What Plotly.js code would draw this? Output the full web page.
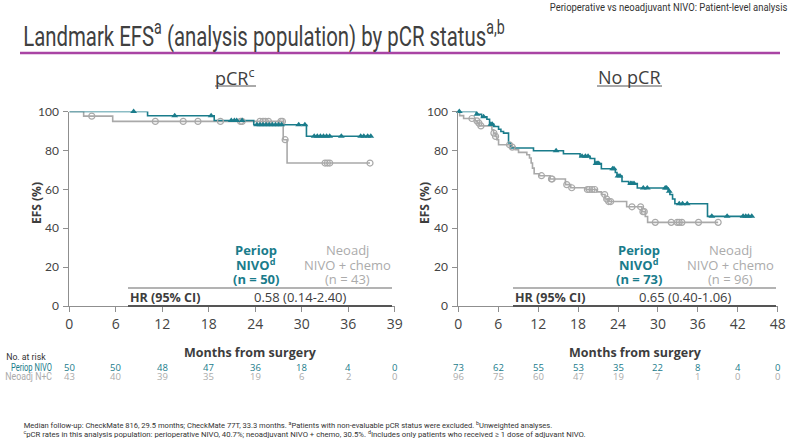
<!DOCTYPE html>
<html><head><meta charset="utf-8">
<script src="https://cdn.plot.ly/plotly-3.0.1.min.js"></script>
<style>html,body{margin:0;padding:0;background:#fff}#chart{width:800px;height:441px}</style>
</head><body><div id="chart"></div>
<script>
// ---------------- DATA ----------------
// pCR panel
const pcrPeriopT = [0, 10.1, 18.7, 23.8, 30.6];
const pcrPeriopS = [100, 97.8, 95.4, 93.2, 87.3];
const pcrPeriopEnd = 39.0;
const pcrPeriopCens = [8.3, 13.6, 18.3, 20.9, 21.3, 21.6, 22.3, 24.2, 24.6, 25.0, 25.4, 25.8, 26.2, 26.6, 27.0, 27.4, 29.6, 30.4, 31.6, 32.0, 32.4, 32.8, 33.2, 33.6, 35.1, 37.6, 38.0, 38.5, 38.9];

const pcrNeoT = [0, 1.85, 5.6, 27.6, 28.1];
const pcrNeoS = [100, 97.6, 94.9, 85.5, 73.5];
const pcrNeoEnd = 38.8;
const pcrNeoCens = [2.9, 11.1, 14.7, 16.6, 19.5, 22.1, 22.3, 24.6, 25.0, 25.3, 25.7, 27.3, 27.5, 27.85, 33.0, 33.3, 33.6, 38.8];

// No pCR panel
const noPcrPeriopT = [0, 2.7, 3.5, 4.3, 4.7, 5.3, 6.05, 6.4, 6.8, 7.55, 7.9, 11.3, 15.8, 18.3, 19.8, 20.5, 21.5, 23.6, 23.85, 24.6, 25.6, 26.9, 31.55, 31.8, 32.2, 32.55, 37.45];
const noPcrPeriopS = [100, 98.6, 97.3, 96.0, 93.5, 92.3, 90.9, 89.7, 88.9, 83.8, 81.2, 79.8, 78.3, 77.0, 75.8, 73.3, 70.6, 68.6, 66.8, 64.0, 63.0, 60.7, 59.0, 57.3, 55.0, 52.6, 46.1];
const noPcrPeriopEnd = 44.2;
const noPcrPeriopCens = [0.15, 2.8, 3.8, 4.9, 5.1, 14.7, 18.6, 19.1, 19.5, 20.7, 20.9, 21.1, 23.2, 23.4, 24.0, 24.3, 25.9, 26.1, 26.4, 27.8, 28.4, 31.1, 31.3, 31.7, 33.2, 33.7, 34.4, 38.1, 40.4, 42.8, 43.2, 43.6, 44.1];

const noPcrNeoT = [0, 0.2, 0.8, 2.55, 2.9, 3.2, 5.05, 5.3, 5.55, 5.8, 6.05, 8.05, 8.55, 9.05, 10.3, 10.7, 10.95, 11.15, 11.4, 12.2, 13.8, 16.1, 16.9, 19.2, 20.8, 21.5, 22.05, 22.5, 25.3, 27.6, 28.1, 28.45];
const noPcrNeoS = [100, 97.9, 96.4, 95.2, 94.0, 92.6, 90.6, 88.9, 87.2, 85.5, 82.9, 81.7, 80.3, 79.0, 77.8, 76.1, 73.5, 70.9, 68.0, 67.0, 65.3, 62.4, 60.8, 59.9, 58.7, 57.3, 55.0, 53.7, 51.0, 48.5, 46.0, 43.0];
const noPcrNeoEnd = 39.05;
const noPcrNeoCens = [2.05, 2.8, 3.1, 3.4, 5.35, 5.6, 7.7, 8.1, 12.5, 14.0, 14.1, 16.3, 17.05, 19.4, 19.7, 20.1, 20.5, 22.0, 22.3, 22.6, 22.9, 26.1, 27.4, 27.75, 27.95, 29.6, 32.0, 32.9, 33.2, 33.6, 36.1, 39.05];

// axes / ticks
const leftTickVals = [0, 6, 12, 18, 24, 30, 36, 42];
const leftTickText = ['0', '6', '12', '18', '24', '30', '36', '39'];
const rightTickVals = [0, 6, 12, 18, 24, 30, 36, 42, 48];
const yTickVals = [0, 20, 40, 60, 80, 100];

// numbers at risk
const leftRiskMonths = [0, 6, 12, 18, 24, 30, 36, 42];
const leftRiskPeriop = [50, 50, 48, 47, 36, 18, 4, 0];
const leftRiskNeo = [43, 40, 39, 35, 19, 6, 2, 0];
const rightRiskMonths = [0, 6, 12, 18, 24, 30, 36, 42, 48];
const rightRiskPeriop = [73, 62, 55, 53, 35, 22, 8, 4, 0];
const rightRiskNeo = [96, 75, 60, 47, 19, 7, 1, 0, 0];

const leftN = {periop: 50, neo: 43, hr: '0.58 (0.14-2.40)'};
const rightN = {periop: 73, neo: 96, hr: '0.65 (0.40-1.06)'};

// ---------------- STYLE ----------------
const TEAL = '#1a7c8b';
const GREY = '#a9a9a9';
const GREYTXT = '#ababab';
const DARK = '#3d3d3d';
const AX = '#8f8f8f';
const W = 800, H = 441;
const px = x => x / W;
const py = y => 1 - y / H;

function stepAt(t, T, S) {
  let v = S[0];
  for (let i = 0; i < T.length; i++) if (T[i] <= t) v = S[i];
  return v;
}
function kmLine(T, S, end, color, xa, ya) {
  return {type: 'scatter', mode: 'lines', x: T.concat([end]), y: S.concat([S[S.length - 1]]),
    line: {shape: 'hv', color: color, width: 1.6}, xaxis: xa, yaxis: ya, hoverinfo: 'skip', cliponaxis: false};
}
function kmCens(C, T, S, color, sym, xa, ya) {
  return {type: 'scatter', mode: 'markers', x: C, y: C.map(t => stepAt(t, T, S)),
    marker: sym === 'tri' ? {symbol: 'triangle-up', size: 6, color: color} :
      {symbol: 'circle-open', size: 6, color: color, line: {width: 1.2, color: color}},
    xaxis: xa, yaxis: ya, hoverinfo: 'skip', cliponaxis: false};
}

const traces = [
  kmLine(pcrNeoT, pcrNeoS, pcrNeoEnd, GREY, 'x', 'y'),
  kmLine(pcrPeriopT, pcrPeriopS, pcrPeriopEnd, TEAL, 'x', 'y'),
  kmCens(pcrNeoCens, pcrNeoT, pcrNeoS, GREY, 'circ', 'x', 'y'),
  kmCens(pcrPeriopCens, pcrPeriopT, pcrPeriopS, TEAL, 'tri', 'x', 'y'),
  kmLine(noPcrNeoT, noPcrNeoS, noPcrNeoEnd, GREY, 'x2', 'y2'),
  kmLine(noPcrPeriopT, noPcrPeriopS, noPcrPeriopEnd, TEAL, 'x2', 'y2'),
  kmCens(noPcrNeoCens, noPcrNeoT, noPcrNeoS, GREY, 'circ', 'x2', 'y2'),
  kmCens(noPcrPeriopCens, noPcrPeriopT, noPcrPeriopS, TEAL, 'tri', 'x2', 'y2'),
];

const FONT = 'Open Sans';
const NARROW = 'Roboto';
const fits = [];   // {index, width, anchor} : condensed texts squeezed horizontally after drawing
function ann(text, x, y, o) {
  o = o || {};
  return Object.assign({text: text, x: px(x), y: py(y), xref: 'paper', yref: 'paper', showarrow: false,
    xanchor: 'center', yanchor: 'middle', font: {family: FONT, size: 13, color: DARK}}, o);
}

const annotations = [];
function addFit(a, width, anchor) { fits.push({index: annotations.length, width: width, anchor: anchor}); annotations.push(a); }

// header & title
addFit(ann('Perioperative vs neoadjuvant NIVO: Patient-level analysis', 790, 8,
  {xanchor: 'right', font: {family: NARROW, size: 10, color: '#333'}}), 238, 'right');
addFit(ann('Landmark EFS<sup>a</sup> (analysis population) by pCR status<sup>a,b</sup>', 21, 35,
  {xanchor: 'left', font: {family: NARROW, size: 28, color: '#404040'}}), 482, 'left');
// panel titles
annotations.push(ann('pCR<sup>c</sup>', 235, 77, {font: {family: FONT, size: 18, color: '#404040'}}));
annotations.push(ann('No pCR', 629, 77, {font: {family: FONT, size: 18, color: '#404040'}}));
// y-axis titles
annotations.push(ann('<b>EFS (%)</b>', 37, 203, {textangle: -90, font: {family: FONT, size: 12, color: DARK}}));
annotations.push(ann('<b>EFS (%)</b>', 425, 203, {textangle: -90, font: {family: FONT, size: 12, color: DARK}}));
// x-axis titles
annotations.push(ann('<b>Months from surgery</b>', 250, 352, {font: {family: FONT, size: 12.5, color: DARK}}));
annotations.push(ann('<b>Months from surgery</b>', 635, 352, {font: {family: FONT, size: 12.5, color: DARK}}));

// group labels + HR rows
function groupBlock(cx1, cx2, hrX, hrValX, info) {
  annotations.push(ann('<b>Periop</b>', cx1, 250, {font: {family: FONT, size: 13, color: TEAL}}));
  annotations.push(ann('<b>NIVO<sup>d</sup></b>', cx1, 264.5, {font: {family: FONT, size: 13, color: TEAL}}));
  annotations.push(ann('<b>(n = ' + info.periop + ')</b>', cx1, 279, {font: {family: FONT, size: 13, color: TEAL}}));
  annotations.push(ann('Neoadj', cx2, 250, {font: {family: FONT, size: 13, color: GREYTXT}}));
  annotations.push(ann('NIVO + chemo', cx2, 264.5, {font: {family: FONT, size: 13, color: GREYTXT}}));
  annotations.push(ann('(n = ' + info.neo + ')', cx2, 279, {font: {family: FONT, size: 13, color: GREYTXT}}));
  annotations.push(ann('<b>HR (95% CI)</b>', hrX, 297, {xanchor: 'left', font: {family: FONT, size: 12.5, color: DARK}}));
  annotations.push(ann(info.hr, hrValX, 297, {font: {family: FONT, size: 13, color: DARK}}));
}
groupBlock(256, 347, 128, 300, leftN);
groupBlock(639, 730, 513, 685, rightN);

// numbers at risk
addFit(ann('No. at risk', 48, 357, {xanchor: 'right', font: {family: NARROW, size: 9, color: '#333'}}), 40, 'right');
addFit(ann('Periop NIVO', 54, 367, {xanchor: 'right', font: {family: NARROW, size: 10.5, color: TEAL}}), 41, 'right');
addFit(ann('Neoadj N+C', 54, 376, {xanchor: 'right', font: {family: NARROW, size: 10.5, color: GREYTXT}}), 47, 'right');
function riskRow(months, vals, xref, y, color) {
  months.forEach((m, i) => annotations.push({text: String(vals[i]), x: m, xref: xref, y: py(y), yref: 'paper',
    showarrow: false, xanchor: 'center', yanchor: 'middle', font: {family: FONT, size: 9.5, color: color}}));
}
riskRow(leftRiskMonths, leftRiskPeriop, 'x', 367, TEAL);
riskRow(leftRiskMonths, leftRiskNeo, 'x', 376.5, GREYTXT);
riskRow(rightRiskMonths, rightRiskPeriop, 'x2', 367, TEAL);
riskRow(rightRiskMonths, rightRiskNeo, 'x2', 376.5, GREYTXT);

// footnotes
addFit(ann('Median follow-up: CheckMate 816, 29.5 months; CheckMate 77T, 33.3 months. <sup>a</sup>Patients with non-evaluable pCR status were excluded. <sup>b</sup>Unweighted analyses.',
  21, 425, {xanchor: 'left', font: {family: NARROW, size: 8, color: '#333'}}), 530, 'left');
addFit(ann('<sup>c</sup>pCR rates in this analysis population: perioperative NIVO, 40.7%; neoadjuvant NIVO + chemo, 30.5%. <sup>d</sup>Includes only patients who received ≥ 1 dose of adjuvant NIVO.',
  21, 433.5, {xanchor: 'left', font: {family: NARROW, size: 8, color: '#333'}}), 563, 'left');

function line(x0, y0, x1, y1, color, w) {
  return {type: 'line', xref: 'paper', yref: 'paper', x0: px(x0), y0: py(y0), x1: px(x1), y1: py(y1),
    line: {color: color, width: w}};
}
const shapes = [
  line(20, 53, 780, 53, '#a944a4', 2.5),
  line(215, 86, 256, 86, '#555', 1),
  line(597, 86, 662, 86, '#555', 1),
  line(128, 288, 392, 288, '#9a9a9a', 1.5),
  line(128, 306, 392, 306, '#555', 2),
  line(513, 288, 776, 288, '#9a9a9a', 1.5),
  line(513, 306, 776, 306, '#555', 2),
];

const xBase = {showline: true, linecolor: AX, linewidth: 1, ticks: 'outside', ticklen: 5, tickcolor: AX,
  showgrid: false, zeroline: false, tickfont: {family: FONT, size: 14, color: '#444'}, fixedrange: true};
const yBase = {showline: true, linecolor: AX, linewidth: 1, ticks: 'outside', ticklen: 5, tickcolor: AX,
  showgrid: false, zeroline: false, range: [0, 100], tickvals: yTickVals, ticklabelstandoff: 2,
  tickfont: {family: 'Lato', size: 12, color: '#444'}, fixedrange: true, domain: [py(306), py(111.5)]};

const layout = {
  width: W, height: H, margin: {l: 0, r: 0, t: 0, b: 0}, paper_bgcolor: '#fff', plot_bgcolor: 'rgba(0,0,0,0)',
  showlegend: false,
  xaxis: Object.assign({}, xBase, {domain: [px(69.3), px(394.8)], range: [0, 42], tickvals: leftTickVals, ticktext: leftTickText, anchor: 'y'}),
  yaxis: Object.assign({}, yBase, {anchor: 'x'}),
  xaxis2: Object.assign({}, xBase, {domain: [px(458.3), px(777.7)], range: [0, 48], tickvals: rightTickVals, anchor: 'y2'}),
  yaxis2: Object.assign({}, yBase, {anchor: 'x2'}),
  annotations: annotations,
  shapes: shapes,
};

Plotly.newPlot('chart', traces, layout, {staticPlot: true, displayModeBar: false}).then(gd => {
  // squeeze condensed-font texts horizontally to the reference's narrow typeface widths
  fits.forEach(f => {
    const g = gd.querySelector('g.annotation[data-index="' + f.index + '"]');
    if (!g) return;
    const t = g.querySelector('text');
    if (!t) return;
    const bb = t.getBBox();
    if (!bb.width) return;
    const s = Math.min(1, f.width / bb.width);
    const ax = f.anchor === 'right' ? bb.x + bb.width : bb.x;
    t.setAttribute('transform', 'translate(' + (ax * (1 - s)) + ',0) scale(' + s + ',1)');
  });
});
</script>
</body></html>
